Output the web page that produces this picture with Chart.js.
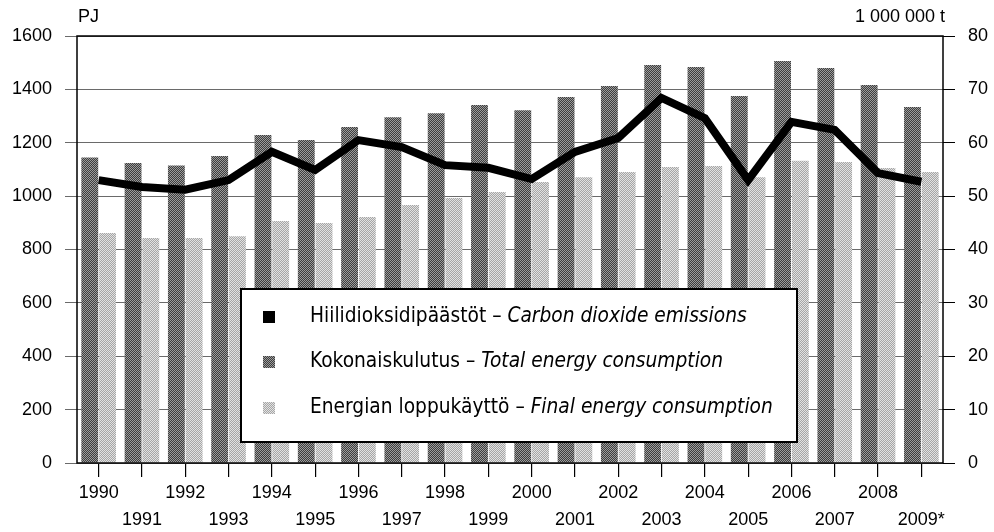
<!DOCTYPE html>
<html>
<head>
<meta charset="utf-8">
<script src="https://cdn.jsdelivr.net/npm/chart.js@4"></script>
<style>
html,body{margin:0;padding:0;background:#fff;}
#wrap{width:994px;height:532px;position:relative;}
</style>
</head>
<body>
<div id="wrap"><canvas id="c" width="994" height="532"></canvas></div>
<script>
const years = ['1990','1991','1992','1993','1994','1995','1996','1997','1998','1999','2000','2001','2002','2003','2004','2005','2006','2007','2008','2009*'];
const totalEnergy = [1145,1124,1115,1150,1229,1210,1259,1296,1311,1341,1322,1371,1413,1491,1484,1375,1506,1480,1416,1334];
const finalEnergy = [862,843,843,850,907,899,922,967,993,1015,1053,1071,1090,1109,1113,1071,1133,1128,1105,1090];
const co2 = [53.0,51.7,51.2,53.0,58.3,54.9,60.5,59.2,55.8,55.3,53.2,58.3,60.9,68.4,64.6,53.0,63.9,62.4,54.3,52.7];
const leftTicks = [0,200,400,600,800,1000,1200,1400,1600];
const rightTicks = [0,10,20,30,40,50,60,70,80];
const legendItems = [
  {fi:'Hiilidioksidipäästöt', en:'Carbon dioxide emissions'},
  {fi:'Kokonaiskulutus', en:'Total energy consumption'},
  {fi:'Energian loppukäyttö', en:'Final energy consumption'}
];

function makePattern(c1, c2){
  const p = document.createElement('canvas');
  p.width = 2; p.height = 2;
  const g = p.getContext('2d');
  g.fillStyle = c1; g.fillRect(0,0,2,2);
  g.fillStyle = c2; g.fillRect(0,0,1,1); g.fillRect(1,1,1,1);
  return g.createPattern(p,'repeat');
}
const ctx = document.getElementById('c').getContext('2d');
const darkPat = makePattern('#3e3e3e','#9c9c9c');
const lightPat = makePattern('#a6a6a6','#e2e2e2');
const legendColors = ['#000000', darkPat, lightPat];

const tickFont = {family:'"Liberation Sans", Arial, sans-serif', size:18, lineHeight:1.5};

const decor = {
  id:'decor',
  afterDatasetsDraw(chart){
    const {ctx, chartArea:a} = chart;
    ctx.save();
    ctx.strokeStyle = '#000';
    ctx.lineWidth = 1.5;
    ctx.strokeRect(a.left, a.top, a.right-a.left, a.bottom-a.top);
    ctx.restore();
  },
  afterDraw(chart){
    const {ctx, chartArea:a} = chart;
    ctx.save();
    ctx.fillStyle = '#000';
    ctx.font = '18px "Liberation Sans", Arial, sans-serif';
    ctx.textBaseline = 'middle';
    ctx.textAlign = 'left';
    ctx.fillText('PJ', a.left+1, 17);
    ctx.textAlign = 'right';
    ctx.fillText('1 000 000 t', a.right+2, 17);

    // legend box
    const bx = 241, by = 289, bw = 556, bh = 153;
    ctx.fillStyle = '#fff';
    ctx.fillRect(bx, by, bw, bh);
    ctx.strokeStyle = '#000';
    ctx.lineWidth = 2;
    ctx.strokeRect(bx, by, bw, bh);
    const rows = [317, 362, 408];
    const fam = '"DejaVu Sans Condensed", "DejaVu Sans", Verdana, sans-serif';
    let size = 18;
    ctx.font = size+'px '+fam;
    let w = ctx.measureText(legendItems[0].fi + ' \u2013 ').width;
    ctx.font = 'italic '+size+'px '+fam;
    w += ctx.measureText(legendItems[0].en).width;
    size = Math.min(21, size * 437 / w);
    legendItems.forEach((it, i) => {
      const y = rows[i];
      ctx.fillStyle = legendColors[i];
      ctx.fillRect(263, y-6, 12, 12);
      ctx.fillStyle = '#000';
      ctx.textAlign = 'left';
      ctx.textBaseline = 'middle';
      ctx.font = size+'px '+fam;
      const t1 = it.fi + ' \u2013 ';
      ctx.fillText(t1, 310, y);
      const w1 = ctx.measureText(t1).width;
      ctx.font = 'italic '+size+'px '+fam;
      ctx.fillText(it.en, 310 + w1, y);
    });
    ctx.restore();
  }
};

new Chart(ctx, {
  type:'bar',
  data:{
    labels: years,
    datasets:[
      {type:'line', label:legendItems[0].fi, data:co2, yAxisID:'y1', borderColor:'#000', borderWidth:8, pointRadius:0, tension:0, borderJoinStyle:'miter', borderCapStyle:'butt', fill:false, order:0},
      {label:legendItems[1].fi, data:totalEnergy, yAxisID:'y', backgroundColor:darkPat, categoryPercentage:0.82, barPercentage:0.95, order:1},
      {label:legendItems[2].fi, data:finalEnergy, yAxisID:'y', backgroundColor:lightPat, categoryPercentage:0.82, barPercentage:0.95, order:2}
    ]
  },
  options:{
    responsive:false,
    animation:false,
    devicePixelRatio:1,
    layout:{padding:{top:36,left:0,right:0,bottom:0}},
    plugins:{legend:{display:false}, tooltip:{enabled:false}},
    scales:{
      x:{
        grid:{display:true, drawOnChartArea:false, drawTicks:true, tickLength:14, offset:false, color:'#000', lineWidth:1.2},
        border:{display:false},
        ticks:{font:tickFont, color:'#000', padding:3, maxRotation:0, minRotation:0, autoSkip:false,
          callback:function(v,i){ const l = years[i]; return i%2===0 ? l : ['', l]; }},
        afterFit(s){ s.height = 69; }
      },
      y:{
        position:'left', min:0, max:1600,
        afterBuildTicks(s){ s.ticks = leftTicks.map(v=>({value:v})); },
        grid:{color:'#6a6a6a', lineWidth:1, tickLength:12, drawTicks:true},
        border:{display:false},
        ticks:{font:tickFont, color:'#000', padding:13, callback:v=>String(v)},
        afterFit(s){ s.width = 77; }
      },
      y1:{
        position:'right', min:0, max:80,
        afterBuildTicks(s){ s.ticks = rightTicks.map(v=>({value:v})); },
        grid:{drawOnChartArea:false, color:'#000', tickLength:12, drawTicks:true},
        border:{display:false},
        ticks:{font:tickFont, color:'#000', padding:13, callback:v=>String(v)},
        afterFit(s){ s.width = 51; }
      }
    }
  },
  plugins:[decor]
});
</script>
</body>
</html>
